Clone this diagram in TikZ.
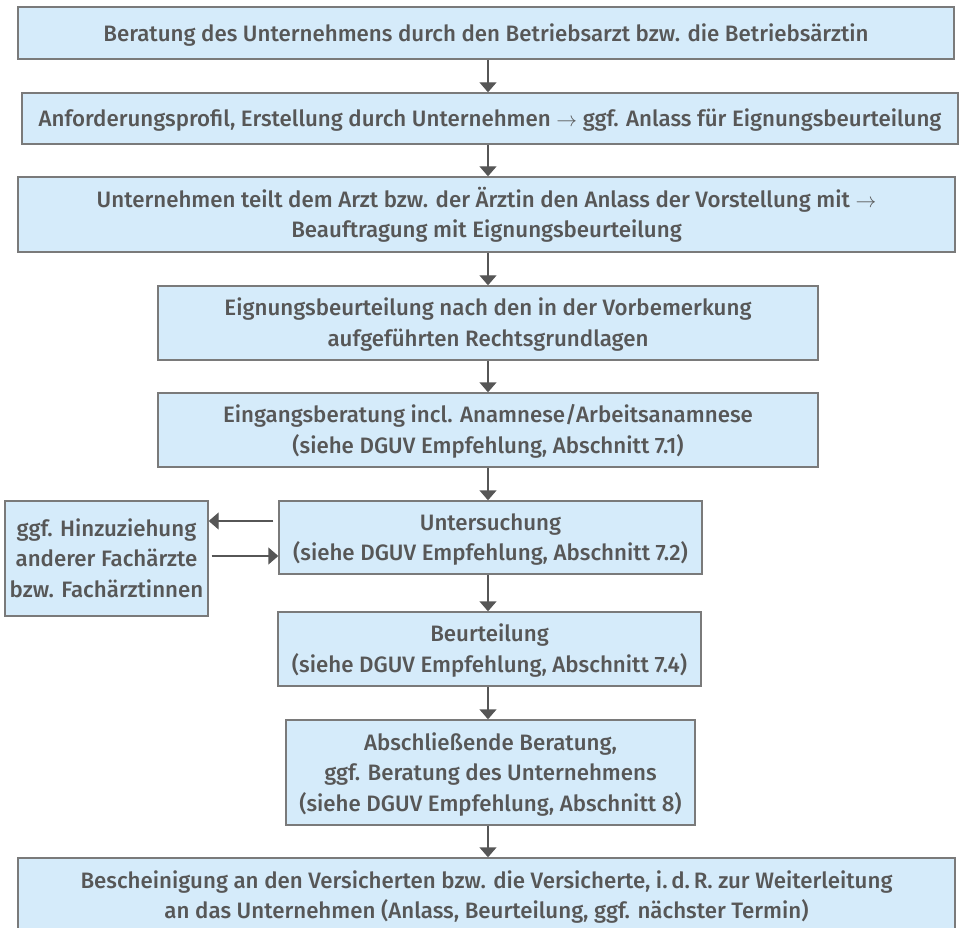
\documentclass[tikz,border=0pt]{standalone}
\usepackage{fontspec}
\IfFontExistsTF{Fira Sans Medium}
  {\setmainfont{Fira Sans Medium}}
  {\setmainfont{Fira Sans}[FakeBold=1.2]}
\usetikzlibrary{arrows.meta}
\definecolor{boxfill}{HTML}{D5EBFA}
\definecolor{boxline}{HTML}{7A7A7A}
\definecolor{txt}{HTML}{575757}
\definecolor{arrowc}{HTML}{565656}
\newcommand\ar{$\rightarrow$}
% centred lines on a fixed pitch, set a little below the box centre
\newcommand\bt[1]{\raisebox{0pt}[\dimexpr\height+4pt\relax][\depth]{%
  \begin{tabular}{@{}c@{}}#1\end{tabular}}}
\begin{document}
\begin{tikzpicture}[x=1pt,y=-1pt,
  stepbox/.style={draw=boxline, line width=1.4pt, fill=boxfill, text=txt,
    inner sep=0pt, font=\fontsize{22.3}{30.5}\selectfont},
  flow/.style={draw=arrowc, line width=1.4pt,
    -{Triangle[width=17pt,length=10pt]}}]
\useasboundingbox (0,0) rectangle (959,928);
\clip (0,0) rectangle (959,928);

% main column of steps
\node[stepbox, minimum width=936pt, minimum height=52pt] (b1) at (486,33)
  {\bt{Beratung des Unternehmens durch den Betriebsarzt bzw. die Betriebsärztin}};
\node[stepbox, minimum width=936pt, minimum height=51pt] (b2) at (490,118.5)
  {\bt{Anforderungsprofil, Erstellung durch Unternehmen \ar{} ggf. Anlass für Eignungsbeurteilung}};
\node[stepbox, minimum width=937pt, minimum height=75pt] (b3) at (486.5,214.5)
  {\bt{Unternehmen teilt dem Arzt bzw. der Ärztin den Anlass der Vorstellung mit \ar\\
   Beauftragung mit Eignungsbeurteilung}};
\node[stepbox, minimum width=660pt, minimum height=74pt] (b4) at (488,323)
  {\bt{Eignungsbeurteilung nach den in der Vorbemerkung\\ aufgeführten Rechtsgrundlagen}};
\node[stepbox, minimum width=660pt, minimum height=74pt] (b5) at (488,430)
  {\bt{Eingangsberatung incl. Anamnese/Arbeitsanamnese\\ (siehe DGUV Empfehlung, Abschnitt 7.1)}};
\node[stepbox, minimum width=423pt, minimum height=73pt] (b6) at (490.5,537.5)
  {\bt{Untersuchung\\ (siehe DGUV Empfehlung, Abschnitt 7.2)}};
\node[stepbox, minimum width=423pt, minimum height=74pt] (b7) at (489.5,649)
  {\bt{Beurteilung\\ (siehe DGUV Empfehlung, Abschnitt 7.4)}};
\node[stepbox, minimum width=409pt, minimum height=105pt] (b8) at (490.5,772.5)
  {\bt{Abschließende Beratung,\\ ggf. Beratung des Unternehmens\\ (siehe DGUV Empfehlung, Abschnitt 8)}};
\node[stepbox, minimum width=937pt, minimum height=75pt] (b9) at (486.5,895.5)
  {\bt{Bescheinigung an den Versicherten bzw. die Versicherte, i.\,d.\,R. zur Weiterleitung\\
   an das Unternehmen (Anlass, Beurteilung, ggf. nächster Termin)}};

% side box for consulting other specialists
\node[stepbox, minimum width=203pt, minimum height=115pt] (side) at (106.5,558.5)
  {\bt{ggf. Hinzuziehung\\ anderer Fachärzte\\ bzw. Fachärztinnen}};

% vertical flow
\coordinate (ax) at (488,0);
\foreach \a/\b in {b1/b2,b2/b3,b3/b4,b4/b5,b5/b6,b6/b7,b7/b8,b8/b9}
  \draw[flow] (\a.south -| ax) -- (\b.north -| ax);

% exchange with the side box
\coordinate (up) at (0,521);
\coordinate (lo) at (0,556);
\draw[flow, shorten <=5pt] (b6.west |- up) -- (side.east |- up);
\draw[flow, shorten <=3pt] (side.east |- lo) -- (b6.west |- lo);
\end{tikzpicture}
\end{document}
